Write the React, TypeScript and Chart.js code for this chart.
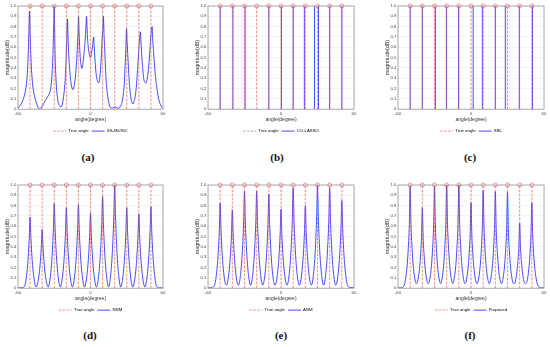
import React, { useEffect, useRef } from 'react';
import { Chart, registerables } from 'chart.js';

Chart.register(...registerables);

// ---------------- data ----------------
const trueAngles = [-50, -40, -30, -20, -10, 0, 10, 20, 30, 40, 50];

const ssMusicAngle = [
  -60, -58, -56, -54, -53, -52, -51.5, -51, -50.5, -50, -49.5, -49, -48.4, -47.5, -46.2, -45, -43.5, -42.5,
  -41.5, -40.5, -39, -38, -36.5, -35, -33.5, -32.5, -31.8, -31, -30.5, -30, -29.6, -29.2, -28.6, -28, -27.2,
  -26.5, -25.5, -24.6, -23.5, -22.7, -21.7, -21, -20.3, -19.7, -19, -18.6, -18.2, -17.5, -17, -16.2, -15.5,
  -14.6, -13.7, -13.2, -12.5, -11.8, -11.2, -10.7, -10.2, -9.9, -9.5, -9.1, -8.5, -8, -7.2, -6.5, -5.9, -5.2,
  -4.4, -3.8, -3.3, -2.9, -2.5, -2, -1.4, -0.6, 0, 0.8, 1.5, 2.2, 2.6, 3, 3.6, 4.4, 5.2, 6, 6.9, 7.6, 8.3,
  9.1, 9.7, 10.2, 10.7, 11.2, 11.8, 12.4, 12.9, 13.6, 14.3, 15, 15.6, 17, 18.5, 20.3, 22, 23.6, 24.8, 25.8,
  26.6, 27.2, 28, 28.6, 29.3, 29.8, 30.3, 30.8, 31.5, 32.2, 33, 33.8, 35.2, 36, 36.9, 37.8, 38.5, 39.3, 39.9,
  40.6, 41.3, 41.7, 42.2, 42.7, 43.3, 44, 44.7, 46, 46.7, 47.4, 48.2, 48.8, 49.9, 50.5, 51, 51.5, 52.1, 53,
  53.8, 54.6, 55.4, 56.2, 57.1, 58.4, 60,
];
const ssMusicMag = [
  0.01, 0.04, 0.085, 0.17, 0.25, 0.4, 0.55, 0.75, 0.95, 0.75, 0.57, 0.42, 0.31, 0.2, 0.12, 0.07, 0.02, 0.005,
  0.008, 0.02, 0.045, 0.07, 0.1, 0.13, 0.17, 0.24, 0.35, 0.57, 0.8, 1.0, 0.72, 0.48, 0.3, 0.18, 0.1,
  0.055, 0.03, 0.02, 0.04, 0.09, 0.18, 0.28, 0.45, 0.65, 0.87, 0.7, 0.57, 0.43, 0.35, 0.26, 0.215,
  0.19, 0.215, 0.25, 0.31, 0.41, 0.52, 0.64, 0.78, 0.9, 0.76, 0.64, 0.5, 0.44, 0.395, 0.42, 0.48, 0.56,
  0.67, 0.79, 0.9, 0.8, 0.7, 0.62, 0.56, 0.51, 0.5, 0.54, 0.6, 0.66, 0.7, 0.62, 0.5, 0.37, 0.3, 0.265, 0.255, 0.3, 0.38,
  0.55, 0.7, 0.78, 0.9, 0.72, 0.57, 0.4, 0.28, 0.19, 0.12, 0.07, 0.04, 0.013, 0.012, 0.022, 0.012, 0.01, 0.03, 0.055,
  0.1, 0.15, 0.25, 0.41, 0.6, 0.78, 0.65, 0.54, 0.38, 0.25, 0.15, 0.087, 0.05, 0.075, 0.12, 0.2, 0.31, 0.44, 0.57,
  0.68, 0.75, 0.66, 0.57, 0.46, 0.38, 0.3, 0.265, 0.255, 0.28, 0.33, 0.42, 0.51, 0.7, 0.78, 0.8, 0.68, 0.57, 0.42,
  0.31, 0.23, 0.17, 0.11, 0.07, 0.03, 0.005,
];

const coLassoAngles = [-50, -39.5, -29.5, -10, 0.3, 10, 19.2, 27.5, 30.8, 40, 50];
const sblAngles = [-50, -40, -29.3, -20.2, -10.2, 1.8, 9.3, 20, 28.2, 39.7, 50.5];

// common angle grid for the gridded spectra (NNM, ANM, Proposed)
const gridAngle = [
  -60, -57.5, -55,
  -54, -52.5, -51.5, -50.7, -50, -49.3, -48.5, -47.5, -46, -45,
  -44, -42.5, -41.5, -40.7, -40, -39.3, -38.5, -37.5, -36, -35,
  -34, -32.5, -31.5, -30.7, -30, -29.3, -28.5, -27.5, -26, -25,
  -24, -22.5, -21.5, -20.7, -20, -19.3, -18.5, -17.5, -16, -15,
  -14, -12.5, -11.5, -10.7, -10, -9.3, -8.5, -7.5, -6, -5,
  -4, -2.5, -1.5, -0.7, 0, 0.7, 1.5, 2.5, 4, 5,
  6, 7.5, 8.5, 9.3, 10, 10.7, 11.5, 12.5, 14, 15,
  16, 17.5, 18.5, 19.3, 20, 20.7, 21.5, 22.5, 24, 25,
  26, 27.5, 28.5, 29.3, 30, 30.7, 31.5, 32.5, 34, 35,
  36, 37.5, 38.5, 39.3, 40, 40.7, 41.5, 42.5, 44, 45,
  46, 47.5, 48.5, 49.3, 50, 50.7, 51.5, 52.5, 54, 55,
  57.5, 60,
];

const nnmMag = [
  0.002, 0.004, 0.012,
  0.041, 0.166, 0.31, 0.483, 0.69, 0.483, 0.31, 0.166, 0.041, 0.012,
  0.034, 0.137, 0.257, 0.399, 0.57, 0.399, 0.257, 0.137, 0.034, 0.012,
  0.049, 0.197, 0.369, 0.574, 0.82, 0.574, 0.369, 0.197, 0.049, 0.012,
  0.047, 0.187, 0.351, 0.546, 0.78, 0.546, 0.351, 0.187, 0.047, 0.012,
  0.049, 0.194, 0.365, 0.567, 0.81, 0.567, 0.365, 0.194, 0.049, 0.012,
  0.044, 0.175, 0.329, 0.511, 0.73, 0.511, 0.329, 0.175, 0.044, 0.012,
  0.053, 0.214, 0.401, 0.623, 0.89, 0.623, 0.401, 0.214, 0.053, 0.012,
  0.06, 0.24, 0.45, 0.7, 1.0, 0.7, 0.45, 0.24, 0.06, 0.012,
  0.047, 0.187, 0.351, 0.546, 0.78, 0.546, 0.351, 0.187, 0.047, 0.012,
  0.043, 0.173, 0.324, 0.504, 0.72, 0.504, 0.324, 0.173, 0.043, 0.012,
  0.047, 0.19, 0.356, 0.553, 0.79, 0.553, 0.356, 0.19, 0.047, 0.012,
  0.004, 0.002,
];

const anmMag = [
  0.003, 0.004, 0.02,
  0.058, 0.198, 0.363, 0.561, 0.825, 0.561, 0.363, 0.198, 0.058, 0.03,
  0.053, 0.182, 0.334, 0.517, 0.76, 0.517, 0.334, 0.182, 0.053, 0.03,
  0.066, 0.226, 0.414, 0.639, 0.94, 0.639, 0.414, 0.226, 0.066, 0.03,
  0.066, 0.226, 0.414, 0.639, 0.94, 0.639, 0.414, 0.226, 0.066, 0.03,
  0.064, 0.218, 0.4, 0.619, 0.91, 0.619, 0.4, 0.218, 0.064, 0.03,
  0.054, 0.184, 0.337, 0.52, 0.765, 0.52, 0.337, 0.184, 0.054, 0.03,
  0.068, 0.233, 0.427, 0.66, 0.97, 0.66, 0.427, 0.233, 0.068, 0.03,
  0.056, 0.192, 0.352, 0.544, 0.8, 0.544, 0.352, 0.192, 0.056, 0.03,
  0.07, 0.24, 0.44, 0.68, 1.0, 0.68, 0.44, 0.24, 0.07, 0.03,
  0.068, 0.233, 0.427, 0.66, 0.97, 0.66, 0.427, 0.233, 0.068, 0.03,
  0.06, 0.204, 0.374, 0.578, 0.85, 0.578, 0.374, 0.204, 0.06, 0.02,
  0.006, 0.005,
];

const proposedMag = [
  0.003, 0.004, 0.025,
  0.079, 0.218, 0.396, 0.614, 0.99, 0.614, 0.396, 0.218, 0.079, 0.045,
  0.062, 0.172, 0.312, 0.484, 0.78, 0.484, 0.312, 0.172, 0.062, 0.045,
  0.079, 0.218, 0.396, 0.614, 0.99, 0.614, 0.396, 0.218, 0.079, 0.045,
  0.08, 0.22, 0.4, 0.62, 1.0, 0.62, 0.4, 0.22, 0.08, 0.045,
  0.08, 0.22, 0.4, 0.62, 1.0, 0.62, 0.4, 0.22, 0.08, 0.045,
  0.066, 0.183, 0.332, 0.515, 0.83, 0.515, 0.332, 0.183, 0.066, 0.045,
  0.076, 0.209, 0.38, 0.589, 0.95, 0.589, 0.38, 0.209, 0.076, 0.045,
  0.075, 0.206, 0.374, 0.58, 0.935, 0.58, 0.374, 0.206, 0.075, 0.045,
  0.074, 0.205, 0.372, 0.577, 0.93, 0.577, 0.372, 0.205, 0.074, 0.045,
  0.05, 0.139, 0.252, 0.391, 0.63, 0.391, 0.252, 0.139, 0.05, 0.045,
  0.066, 0.183, 0.332, 0.515, 0.83, 0.515, 0.332, 0.183, 0.066, 0.025,
  0.005, 0.003,
];

const xTicks = [-60, 0, 60];
const yTicks = [0, 0.1, 0.2, 0.3, 0.4, 0.5, 0.6, 0.7, 0.8, 0.9, 1];

// ---------------- styling ----------------
const RED = 'rgba(255,70,70,0.72)';
const BLUE = 'rgba(35,35,255,0.82)';
const SANS = '"Liberation Sans", Arial, sans-serif';

type PanelCfg = {
  id: string;
  left: number;
  top: number;
  padRight: number;
  method: string;
  stems?: number[];
  xs?: number[];
  ys?: number[];
  tag: string;
  tagX: number;
  tagY: number;
};

const panels: PanelCfg[] = [
  { id: 'a', left: 0, top: 0, padRight: 7, method: 'SS-MUSIC', xs: ssMusicAngle, ys: ssMusicMag, tag: '(a)', tagX: 88, tagY: 157 },
  { id: 'b', left: 190, top: 0, padRight: 6, method: 'CO-LASSO', stems: coLassoAngles, tag: '(b)', tagX: 277, tagY: 157 },
  { id: 'c', left: 380, top: 0, padRight: 6, method: 'SBL', stems: sblAngles, tag: '(c)', tagX: 470, tagY: 157 },
  { id: 'd', left: 0, top: 179, padRight: 7, method: 'NNM', xs: gridAngle, ys: nnmMag, tag: '(d)', tagX: 90, tagY: 335 },
  { id: 'e', left: 190, top: 179, padRight: 6, method: 'ANM', xs: gridAngle, ys: anmMag, tag: '(e)', tagX: 281, tagY: 335 },
  { id: 'f', left: 380, top: 179, padRight: 6, method: 'Proposed', xs: gridAngle, ys: proposedMag, tag: '(f)', tagX: 470, tagY: 335 },
];

const CW = 170;
const CH = 144;

const stemPoints = (angles: number[]) =>
  angles.flatMap((a) => [
    { x: a, y: 0 },
    { x: a, y: 1 },
    { x: a, y: null as any },
  ]);

const boxPlugin = {
  id: 'matlabBox',
  afterDraw(chart: any) {
    const { ctx, chartArea } = chart;
    ctx.save();
    ctx.strokeStyle = '#9a9a9a';
    ctx.lineWidth = 0.8;
    ctx.strokeRect(chartArea.left, chartArea.top, chartArea.right - chartArea.left, chartArea.bottom - chartArea.top);
    ctx.restore();
  },
};

function PanelChart({ cfg }: { cfg: PanelCfg }) {
  const ref = useRef<HTMLCanvasElement>(null);
  useEffect(() => {
    const canvas = ref.current;
    if (!canvas) return;
    const methodData = cfg.stems
      ? stemPoints(cfg.stems)
      : (cfg.xs || []).map((x, i) => ({ x, y: (cfg.ys || [])[i] }));
    const chart = new Chart(canvas, {
      type: 'scatter',
      data: {
        datasets: [
          {
            label: cfg.method,
            data: methodData as any,
            showLine: true,
            borderColor: BLUE,
            borderWidth: 1,
            pointRadius: 0,
            cubicInterpolationMode: cfg.stems ? 'default' : 'monotone',
            spanGaps: false,
            order: 1,
          } as any,
          {
            label: 'True angle',
            data: stemPoints(trueAngles) as any,
            showLine: true,
            borderColor: RED,
            borderWidth: 0.9,
            borderDash: [2.5, 1.5],
            spanGaps: false,
            pointStyle: 'circle',
            pointRadius: (c: any) => (c.raw && c.raw.y === 1 ? 2 : 0),
            pointBorderColor: RED,
            pointBackgroundColor: 'rgba(0,0,0,0)',
            pointBorderWidth: 0.8,
            clip: 6,
            order: 0,
          } as any,
        ],
      },
      options: {
        animation: false,
        responsive: false,
        events: [],
        layout: { padding: { left: 0, right: cfg.padRight, top: 6, bottom: 0.75 } },
        scales: {
          x: {
            type: 'linear',
            min: -60,
            max: 60,
            afterBuildTicks: (s: any) => {
              s.ticks = xTicks.map((v) => ({ value: v }));
            },
            afterFit: (s: any) => {
              s.height = 16.75;
              s.paddingLeft = 0;
              s.paddingRight = 0;
            },
            ticks: { font: { family: SANS, size: 4.3 }, color: '#444', padding: 2, maxRotation: 0 },
            grid: { color: '#ececec', lineWidth: 0.6, drawTicks: false },
            border: { display: false },
            title: {
              display: true,
              text: 'angle(degree)',
              font: { family: SANS, size: 5 },
              color: '#333',
              padding: { top: 0, bottom: 3.25 },
            },
          },
          y: {
            type: 'linear',
            min: 0,
            max: 1,
            afterBuildTicks: (s: any) => {
              s.ticks = yTicks.map((v) => ({ value: v }));
            },
            afterFit: (s: any) => {
              s.width = 18;
              s.paddingTop = 0;
              s.paddingBottom = 0;
            },
            ticks: { font: { family: SANS, size: 4.3 }, color: '#444', padding: 1.5 },
            grid: { color: '#ececec', lineWidth: 0.6, drawTicks: false },
            border: { display: false },
            title: {
              display: true,
              text: 'magnitude(dB)',
              font: { family: SANS, size: 5.4 },
              color: '#333',
              padding: { top: 4, bottom: 0 },
            },
          },
        },
        plugins: {
          tooltip: { enabled: false },
          legend: {
            display: true,
            position: 'bottom',
            fullSize: false,
            labels: {
              usePointStyle: true,
              pointStyleWidth: 13,
              boxHeight: 4,
              padding: 3,
              color: '#333',
              font: { family: SANS, size: 4.3 },
              generateLabels: () => [
                {
                  text: 'True angle',
                  strokeStyle: RED,
                  fillStyle: 'rgba(0,0,0,0)',
                  lineWidth: 0.9,
                  lineDash: [2.5, 1.5],
                  pointStyle: 'line',
                  hidden: false,
                  datasetIndex: 1,
                } as any,
                {
                  text: cfg.method,
                  strokeStyle: BLUE,
                  fillStyle: 'rgba(0,0,0,0)',
                  lineWidth: 1,
                  lineDash: [],
                  pointStyle: 'line',
                  hidden: false,
                  datasetIndex: 0,
                } as any,
              ],
            },
          },
        },
      } as any,
      plugins: [boxPlugin],
    });
    return () => chart.destroy();
  }, [cfg]);
  return (
    <canvas
      ref={ref}
      width={CW}
      height={CH}
      style={{ position: 'absolute', left: cfg.left, top: cfg.top, width: CW, height: CH }}
    />
  );
}

export default function App() {
  return (
    <div style={{ position: 'absolute', left: 0, top: 0, width: 550, height: 347, background: '#fff', overflow: 'hidden' }}>
      {panels.map((p) => (
        <PanelChart key={p.id} cfg={p} />
      ))}
      {panels.map((p) => (
        <div
          key={'t' + p.id}
          style={{
            position: 'absolute',
            left: p.tagX - 20,
            top: p.tagY - 7,
            width: 40,
            height: 14,
            lineHeight: '14px',
            textAlign: 'center',
            fontFamily: '"Liberation Serif", "Times New Roman", serif',
            fontWeight: 'bold',
            fontSize: 11,
            color: '#111',
          }}
        >
          {p.tag}
        </div>
      ))}
    </div>
  );
}
